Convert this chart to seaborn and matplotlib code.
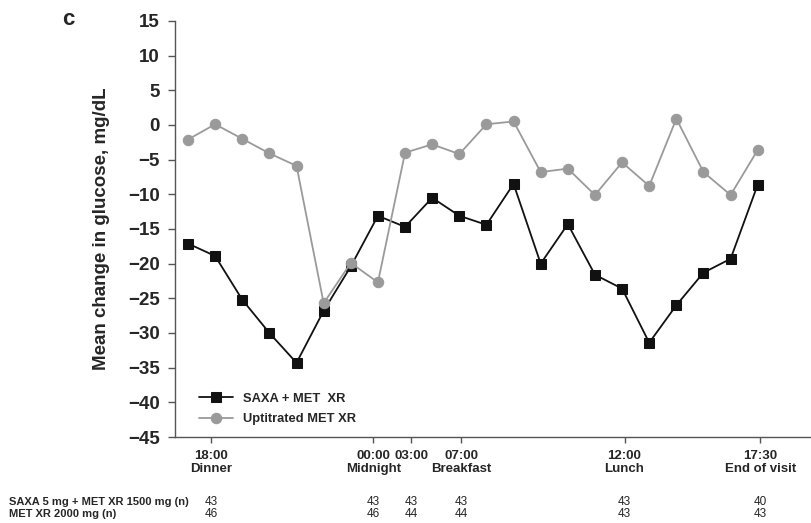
import numpy as np
import pandas as pd
import matplotlib
matplotlib.use("Agg")
import matplotlib.pyplot as plt
import matplotlib.transforms as mtransforms
import seaborn as sns

# Mean change in glucose (mg/dL) at each sampling point
saxa_met = [-17.1, -18.9, -25.2, -30.0, -34.3, -26.8, -20.4, -13.1, -14.7, -10.5, -13.1,
            -14.4, -8.5, -20.0, -14.3, -21.6, -23.6, -31.4, -26.0, -21.3, -19.3, -8.6]
uptitrated_met = [-2.1, 0.1, -2.0, -4.1, -5.9, -25.7, -19.9, -22.7, -4.0, -2.8, -4.2,
                  0.1, 0.5, -6.8, -6.3, -10.1, -5.4, -8.8, 0.9, -6.8, -10.1, -3.6]
sample_idx = np.arange(len(saxa_met))

# Time-of-day ticks (positions on the sample index axis)
tick_pos = [0.85, 6.83, 8.23, 10.07, 16.09, 21.1]
tick_times = ["18:00", "00:00", "03:00", "07:00", "12:00", "17:30"]
tick_events = ["Dinner", "Midnight", "", "Breakfast", "Lunch", "End of visit"]

# Patients (n) per group at each tick
n_saxa = [43, 43, 43, 43, 43, 40]
n_met = [46, 46, 44, 44, 43, 43]
row_labels = ["SAXA 5 mg + MET XR 1500 mg (n)", "MET XR 2000 mg (n)"]

sns.set_style("white")
plt.rcParams['font.family'] = ['Liberation Sans', 'DejaVu Sans']

df = pd.DataFrame({'idx': sample_idx, 'saxa': saxa_met, 'met': uptitrated_met})

fig = plt.figure(figsize=(8.12, 5.23), dpi=100)
ax = fig.add_axes([0.2155, 0.1644, 0.7845, 0.7956])

sns.lineplot(data=df, x='idx', y='saxa', ax=ax, color='#111111', lw=1.3,
             marker='s', markersize=7.5, markeredgecolor='#111111',
             label='SAXA + MET  XR')
sns.lineplot(data=df, x='idx', y='met', ax=ax, color='#9a9a9a', lw=1.3,
             marker='o', markersize=7.5, markeredgecolor='#9a9a9a',
             label='Uptitrated MET XR')

ax.set_xlim(-0.48, 23.0)
ax.set_ylim(-45, 15)
ax.set_yticks(np.arange(-45, 16, 5))
ax.set_yticklabels([f"\u2212{abs(v)}" if v < 0 else str(v) for v in range(-45, 16, 5)],
                   fontsize=13.5, fontweight='bold')
ax.set_xticks(tick_pos)
ax.set_xticklabels(tick_times, fontsize=9.5, fontweight='bold')
ax.set_xlabel('')
ax.set_ylabel('Mean change in glucose, mg/dL', fontsize=13.5, fontweight='bold',
              labelpad=13)

for side in ['top', 'right']:
    ax.spines[side].set_visible(False)
for side in ['left', 'bottom']:
    ax.spines[side].set_color('#555555')
    ax.spines[side].set_linewidth(1.0)
ax.tick_params(axis='y', left=True, direction='out', length=5, width=1,
               color='#555555', pad=6)
ax.tick_params(axis='x', bottom=True, direction='out', length=4, width=1,
               color='#555555', pad=5)

leg = ax.legend(loc='lower left', bbox_to_anchor=(0.02, 0.0), frameon=False,
                prop={'weight': 'bold', 'size': 9.3}, handlelength=2.6,
                handletextpad=0.8, labelspacing=0.65)

# event names under the clock times
trans = mtransforms.blended_transform_factory(ax.transData, fig.transFigure)
for pos, ev in zip(tick_pos, tick_events):
    if ev:
        ax.text(pos, 0.103, ev, transform=trans, fontsize=9.5, fontweight='bold',
                ha='center', va='center', clip_on=False)

# Panel letter
fig.text(0.076, 0.962, 'c', fontsize=16, fontweight='bold', ha='left', va='center')

# n table under the axis
row_y = [0.041, 0.017]
for label, y in zip(row_labels, row_y):
    fig.text(0.011, y, label, fontsize=8, fontweight='bold', ha='left', va='center')
for pos, a, b in zip(tick_pos, n_saxa, n_met):
    ax.text(pos, row_y[0], str(a), transform=trans, fontsize=8.5,
            ha='center', va='center', clip_on=False)
    ax.text(pos, row_y[1], str(b), transform=trans, fontsize=8.5,
            ha='center', va='center', clip_on=False)

fig.savefig('out.png', dpi=100)
